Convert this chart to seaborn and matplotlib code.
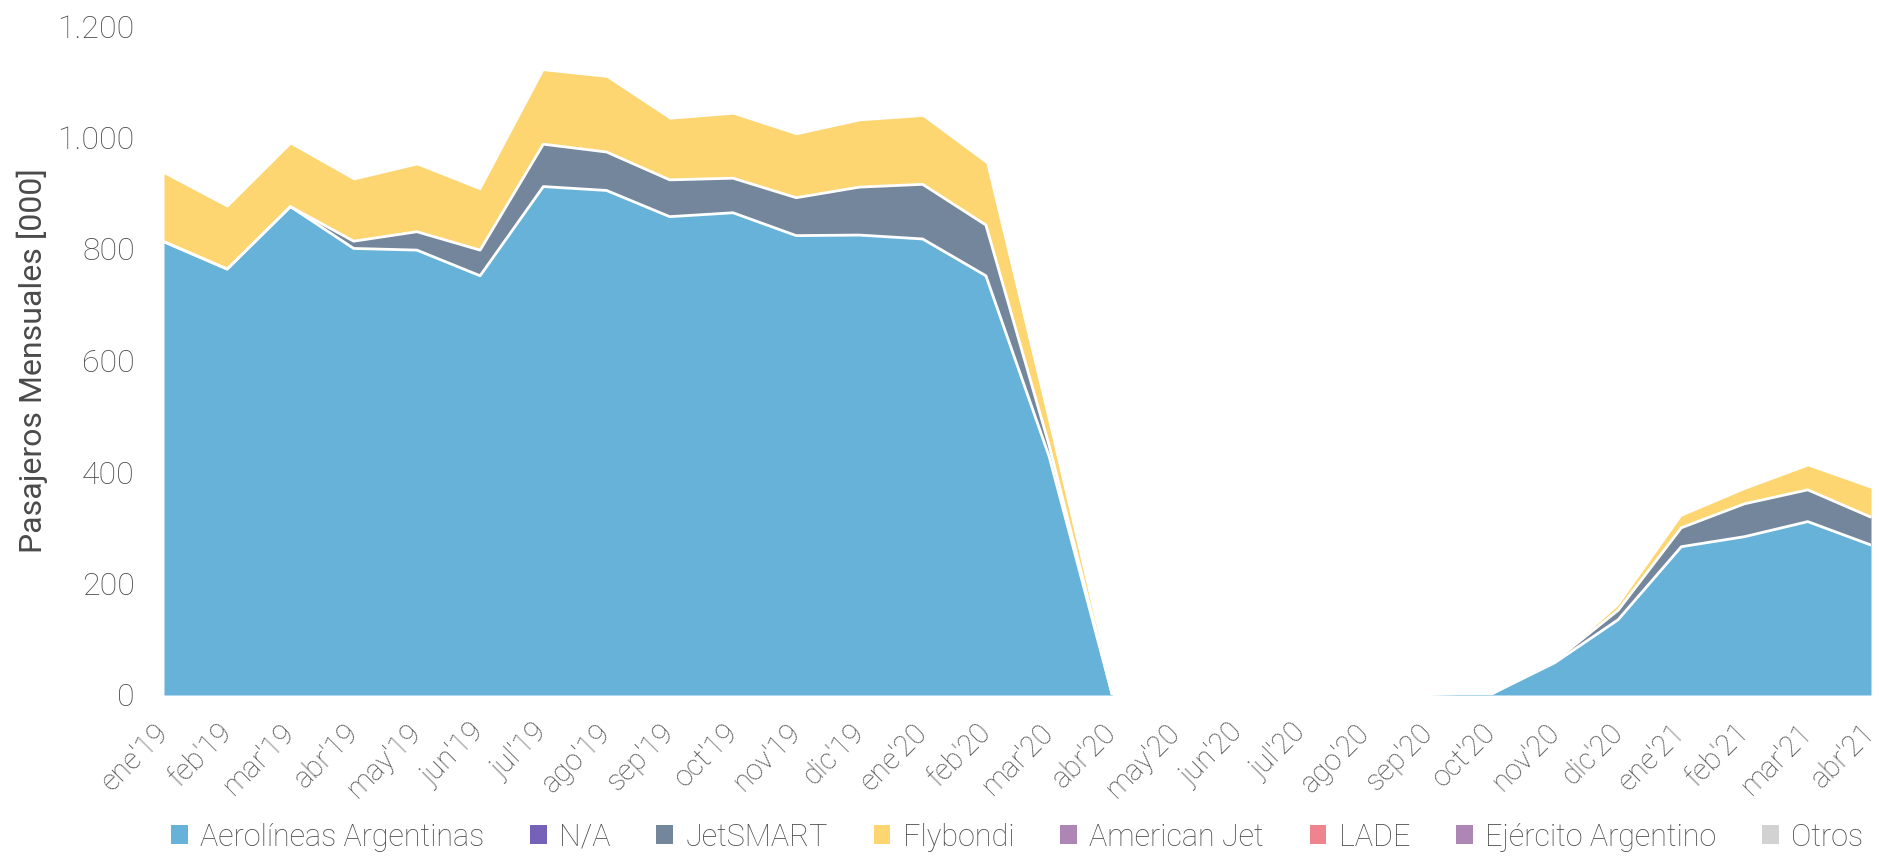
import numpy as np
import pandas as pd
import seaborn as sns
import matplotlib.pyplot as plt
from matplotlib.patches import Patch
from matplotlib.ticker import FuncFormatter

# months ene'19 .. abr'21
meses = ["ene'19", "feb'19", "mar'19", "abr'19", "may'19", "jun'19", "jul'19",
         "ago'19", "sep'19", "oct'19", "nov'19", "dic'19", "ene'20", "feb'20",
         "mar'20", "abr'20", "may'20", "jun'20", "jul'20", "ago'20", "sep'20",
         "oct'20", "nov'20", "dic'20", "ene'21", "feb'21", "mar'21", "abr'21"]

# pasajeros mensuales [000]
aerolineas = [813, 764, 876, 801, 798, 752, 912, 905, 858, 865, 824, 825, 818, 752,
              428, 0, 0, 0, 0, 0, 0, 2, 58, 135, 266, 284, 311, 269]
na = [0] * 28
jetsmart = [0, 0, 0, 13, 33, 46, 76, 69, 66, 62, 68, 86, 98, 91,
            20, 0, 0, 0, 0, 0, 0, 0, 3, 17, 34, 59, 57, 50]
flybondi = [122, 111, 112, 110, 120, 108, 132, 134, 109, 115, 113, 119, 122, 111,
            35, 0, 0, 0, 0, 0, 0, 0, 0, 9, 21, 26, 43, 52]
american_jet = [0] * 28
lade = [0] * 28
ejercito = [0] * 28
otros = [0] * 28

series = ["Aerolíneas Argentinas", "N/A", "JetSMART", "Flybondi",
          "American Jet", "LADE", "Ejército Argentino", "Otros"]
colores = ["#66B2D9", "#7562B8", "#74869B", "#FDD671",
           "#AD86B6", "#F0848C", "#AD86B6", "#D2D2D2"]

sns.set_theme(style="white")
plt.rcParams["font.family"] = ["Roboto", "DejaVu Sans"]
plt.rcParams["font.weight"] = "light"
gris = "#4a4a4a"

df = pd.DataFrame({"mes": meses, "Aerolíneas Argentinas": aerolineas, "N/A": na,
                   "JetSMART": jetsmart, "Flybondi": flybondi,
                   "American Jet": american_jet, "LADE": lade,
                   "Ejército Argentino": ejercito, "Otros": otros})
x = np.arange(len(meses))

fig = plt.figure(figsize=(18.79, 8.56), dpi=100)
ax = fig.add_axes([164 / 1879, 1 - 695 / 856, (1871 - 164) / 1879, (695 - 26) / 856])

ax.stackplot(x, [df[s] for s in series], colors=colores, linewidth=0)

# white separators between the layers
cum = df[series].cumsum(axis=1)
sns.lineplot(x=x, y=cum["Aerolíneas Argentinas"], color="white", lw=2, ax=ax)
sns.lineplot(x=x, y=cum["JetSMART"], color="white", lw=2, ax=ax)

ax.set_xlim(0, len(meses) - 1)
ax.set_ylim(0, 1200)
ax.set_yticks(range(0, 1201, 200))
ax.yaxis.set_major_formatter(FuncFormatter(lambda v, p: f"{int(v):,}".replace(",", ".")))
ax.set_xticks(x)
ax.set_xticklabels(meses)
ax.tick_params(axis="y", length=0, pad=21, labelsize=23, labelcolor=gris)
ax.tick_params(axis="x", length=0, pad=24, labelsize=21, labelcolor=gris)
plt.setp(ax.get_xticklabels(), rotation=45, ha="right", va="center",
         rotation_mode="anchor")
ax.set_ylabel("Pasajeros Mensuales [000]", fontsize=23, color=gris, labelpad=7)
ax.set_xlabel("")
sns.despine(ax=ax, left=True, bottom=True)

handles = [Patch(facecolor=c, edgecolor="none", label=s) for s, c in zip(series, colores)]
fig.legend(handles=handles, loc="center", bbox_to_anchor=(1017 / 1879, 1 - 837 / 856),
           ncol=8, frameon=False, fontsize=22, labelcolor=gris,
           handlelength=0.55, handleheight=0.55, handletextpad=0.4,
           columnspacing=1.5, borderaxespad=0)

fig.savefig("out.png", dpi=100)
